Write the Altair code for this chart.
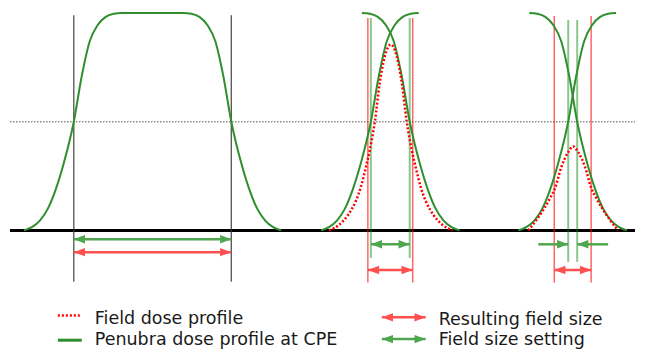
import altair as alt
import pandas as pd

# ---------------- data ----------------
# penumbra edge shape: offset from the 50 % point (x units) -> relative dose
edge_offset = [-50, -42, -34, -26, -18, -10, 0, 8, 16, 24, 32, 40, 48]
edge_dose = [0, 0.015, 0.045, 0.1, 0.19, 0.31, 0.5, 0.71, 0.87, 0.945, 0.982, 0.996, 1.0]

# 50 % positions of the jaw edges
wide_left, wide_right = 74, 232
mid_rise, mid_fall = 372, 411
small_rise, small_fall = 570, 579

# field dose profiles (red dotted)
field2_x = [330, 340, 349, 357, 362, 367, 371, 376, 381, 386, 392, 398, 403, 408, 413, 417, 422, 427, 435, 444, 454]
field2_dose = [0, 0.025, 0.07, 0.136, 0.2, 0.29, 0.37, 0.5, 0.68, 0.80, 0.855, 0.80, 0.68, 0.5, 0.37, 0.29, 0.2, 0.136, 0.07, 0.025, 0]
field3_x = [530, 540, 552, 557, 563, 570, 575, 580, 587, 593, 598, 610, 620]
field3_dose = [0, 0.06, 0.15, 0.197, 0.29, 0.36, 0.386, 0.36, 0.29, 0.197, 0.15, 0.06, 0]

# vertical marker lines
black_x = [74, 232]
red_x = [369, 414, 556, 593]
red_top = [0.977, 0.977, 0.986, 0.986]
green_x = [372, 411, 570, 579]
green_top = [0.977, 0.977, 0.968, 0.968]
green_bottom = [-0.127, -0.127, -0.145, -0.145]

# arrows
arrow_x1 = [74, 74, 372, 369, 540, 610, 556, 383, 383]
arrow_x2 = [232, 232, 411, 414, 570, 579, 593, 427, 427]
arrow_y = [-0.041, -0.1, -0.064, -0.182, -0.064, -0.064, -0.182, -0.4, -0.5]
arrow_kind = ["setting", "result", "setting", "result", "setting", "setting", "result", "result", "setting"]
arrow_heads = ["both", "both", "both", "both", "end", "end", "both", "both", "both"]

# legend
legend_labels = ["Field dose profile", "Penubra dose profile at CPE", "Resulting field size", "Field size setting"]
legend_text_x = [95, 95, 440, 440]
legend_text_y = [-0.432, -0.527, -0.436, -0.527]

# ---------------- tables ----------------
GREEN = "#2f8f2f"
GREEN_DARK = "#008000"
RED = "#ff0000"

rows = []
for o, d in zip(edge_offset, edge_dose):
    rows.append({"curve": "wide", "x": wide_left + o, "dose": d})
for o, d in zip(edge_offset, edge_dose):
    rows.append({"curve": "wide", "x": wide_right - o, "dose": d})
for name, edge, sign in [("m_rise", mid_rise, 1), ("m_fall", mid_fall, -1),
                         ("s_rise", small_rise, 1), ("s_fall", small_fall, -1)]:
    for o, d in zip(edge_offset, edge_dose):
        rows.append({"curve": name, "x": edge + sign * o, "dose": d})
green_df = pd.DataFrame(rows)

red_df = pd.DataFrame(
    [{"curve": "f2", "x": x, "dose": d} for x, d in zip(field2_x, field2_dose)]
    + [{"curve": "f3", "x": x, "dose": d} for x, d in zip(field3_x, field3_dose)]
)

xs = alt.Scale(domain=[8, 637], nice=False, zero=False)
ys = alt.Scale(domain=[-0.5409, 1.00909], nice=False, zero=False)

def X(field="x"):
    return alt.X(field, type="quantitative", scale=xs, axis=None)

def Y(field="y"):
    return alt.Y(field, type="quantitative", scale=ys, axis=None)

href = pd.DataFrame({"x": [10], "x2": [637], "y": [0.5]})
half_line = alt.Chart(href).mark_rule(color="#8c8c8c", strokeWidth=1.5, strokeDash=[1.5, 1.5]).encode(
    x=X("x"), x2="x2", y=Y("y"))
base = pd.DataFrame({"x": [10], "x2": [637], "y": [0.0]})
base_line = alt.Chart(base).mark_rule(color="black", strokeWidth=3).encode(
    x=X("x"), x2="x2", y=Y("y"))

black_df = pd.DataFrame({"x": black_x, "y": [0.99] * 2, "y2": [-0.236] * 2})
black_rules = alt.Chart(black_df).mark_rule(color="#333333", strokeWidth=1.3, opacity=0.85).encode(
    x=X("x"), y=Y("y"), y2="y2")

red_df_v = pd.DataFrame({"x": red_x, "y": red_top, "y2": [-0.24] * 4})
red_rules = alt.Chart(red_df_v).mark_rule(color=RED, strokeWidth=1.5, opacity=0.6).encode(
    x=X("x"), y=Y("y"), y2="y2")

green_df_v = pd.DataFrame({"x": green_x, "y": green_top, "y2": green_bottom})
green_rules = alt.Chart(green_df_v).mark_rule(color=GREEN_DARK, strokeWidth=2, opacity=0.45).encode(
    x=X("x"), y=Y("y"), y2="y2")

green_lines = alt.Chart(green_df).mark_line(color=GREEN, strokeWidth=2, interpolate="monotone").encode(
    x=X("x"), y=Y("dose"), detail="curve:N")

red_lines = alt.Chart(red_df).mark_line(color=RED, strokeWidth=2.5, strokeDash=[2, 2],
                                        interpolate="monotone").encode(
    x=X("x"), y=Y("dose"), detail="curve:N")

arr_df = pd.DataFrame({"x": arrow_x1, "x2": arrow_x2, "y": arrow_y, "kind": arrow_kind})
line_col = alt.Scale(domain=["setting", "result"], range=["#4fa64f", "#ff5050"])
head_col = alt.Scale(domain=["setting", "result"], range=[GREEN_DARK, RED])

arrow_lines = alt.Chart(arr_df).mark_rule(strokeWidth=2.5).encode(
    x=X("x"), x2="x2", y=Y("y"), color=alt.Color("kind:N", scale=line_col, legend=None))

heads = []
for x1, x2, y, k, h in zip(arrow_x1, arrow_x2, arrow_y, arrow_kind, arrow_heads):
    right = "M0,0L-2,-0.75L-2,0.75Z"
    left = "M0,0L2,-0.75L2,0.75Z"
    if h == "both":
        heads.append({"x": x1, "y": y, "kind": k, "shape": left})
        heads.append({"x": x2, "y": y, "kind": k, "shape": right})
    else:
        heads.append({"x": x2, "y": y, "kind": k, "shape": right if x2 > x1 else left})
heads_df = pd.DataFrame(heads)
arrow_heads_ch = alt.Chart(heads_df).mark_point(filled=True, size=125, opacity=1, strokeWidth=0).encode(
    x=X("x"), y=Y("y"),
    color=alt.Color("kind:N", scale=head_col, legend=None),
    shape=alt.Shape("shape:N", scale=None))

leg_red = alt.Chart(pd.DataFrame({"x": [58], "x2": [80], "y": [-0.391]})).mark_rule(
    color=RED, strokeWidth=2.5, strokeDash=[2, 2]).encode(x=X("x"), x2="x2", y=Y("y"))
leg_green = alt.Chart(pd.DataFrame({"x": [58], "x2": [82], "y": [-0.505]})).mark_rule(
    color=GREEN, strokeWidth=3).encode(x=X("x"), x2="x2", y=Y("y"))

text_df = pd.DataFrame({"x": legend_text_x, "y": legend_text_y, "label": legend_labels})
legend_text = alt.Chart(text_df).mark_text(align="left", baseline="alphabetic", font="DejaVu Sans",
                                           fontSize=17.5, color="#1a1a1a").encode(
    x=X("x"), y=Y("y"), text="label:N")

chart = alt.layer(
    half_line, base_line, black_rules, red_rules, green_rules,
    green_lines, red_lines, arrow_lines, arrow_heads_ch,
    leg_red, leg_green, legend_text,
).properties(
    width=629, height=341, padding=0, background="white",
    autosize=alt.AutoSizeParams(type="fit", contains="padding"),
).configure_view(strokeWidth=0)

chart.save("out.html", embed_options={"renderer": "svg", "actions": False})
